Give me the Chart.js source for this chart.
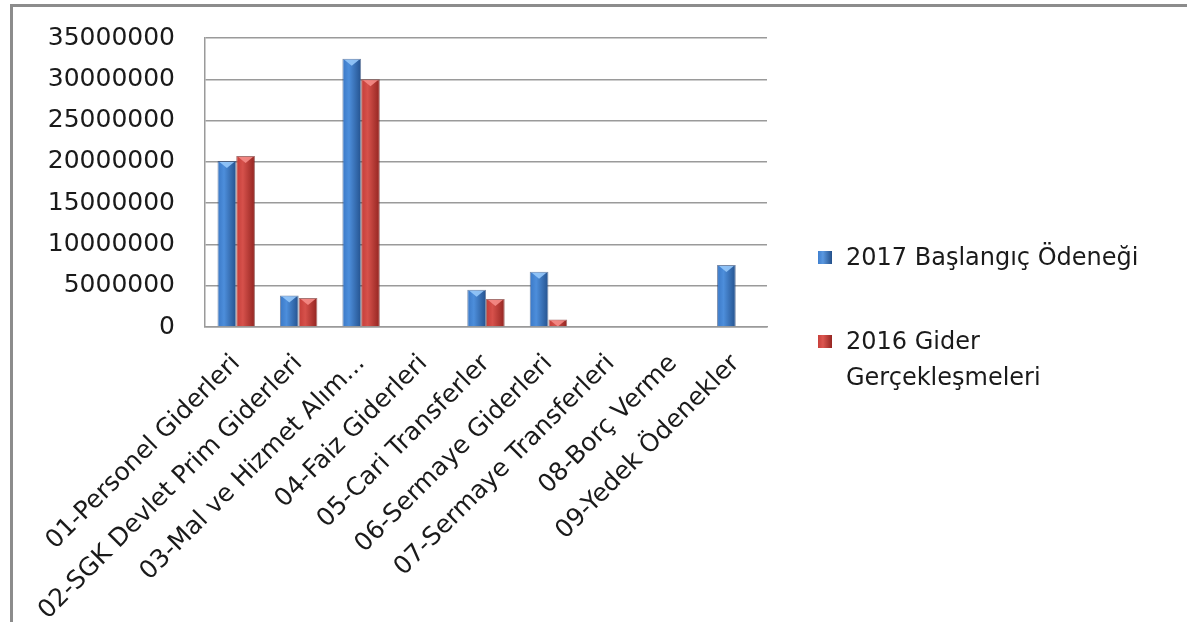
<!DOCTYPE html>
<html lang="tr">
<head>
<meta charset="utf-8">
<title>Ödenek ve Gider Grafiği</title>
<script src="https://cdn.jsdelivr.net/npm/chart.js@4.4.1/dist/chart.umd.min.js"></script>
<style>
  body { margin: 0; background: #fff; }
  #wrap { position: relative; width: 1187px; height: 622px; overflow: hidden; }
  #chart { position: absolute; left: 0; top: 0; }
  #frame {
    position: absolute; left: 10px; top: 4px; right: 0; bottom: 0;
    border-top: 3px solid #8c8c8c; border-left: 3px solid #8c8c8c;
    pointer-events: none;
  }
  .legend-item { position: absolute; left: 818px; width: 340px; font-family: 'DejaVu Sans', sans-serif; font-size: 24px; line-height: 36px; color: #1a1a1a; }
  .legend-box { position: absolute; left: 0; width: 14px; height: 13px; }
  .legend-text { position: absolute; left: 28px; top: 0; width: 300px; }
</style>
</head>
<body>
<div id="wrap">
  <canvas id="chart" width="1187" height="622"></canvas>
  <div id="frame"></div>
  <div class="legend-item" style="top:239px">
    <div class="legend-box" style="top:12px;background:linear-gradient(90deg,#3f7fcf,#5a98e0 35%,#24508a)"></div>
    <div class="legend-text" id="leg1"></div>
  </div>
  <div class="legend-item" style="top:323px">
    <div class="legend-box" style="top:12px;background:linear-gradient(90deg,#c8403b,#dc5650 35%,#952521)"></div>
    <div class="legend-text" id="leg2"></div>
  </div>
</div>
<script>
// kategoriler (x ekseni)
const categories = [
  '01-Personel Giderleri',
  '02-SGK Devlet Prim Giderleri',
  '03-Mal ve Hizmet Alım...',
  '04-Faiz Giderleri',
  '05-Cari Transferler',
  '06-Sermaye Giderleri',
  '07-Sermaye Transferleri',
  '08-Borç Verme',
  '09-Yedek Ödenekler'
];

// seri adları
const seriesNames = ['2017 Başlangıç Ödeneği', '2016 Gider Gerçekleşmeleri'];

// seri değerleri
const baslangic2017 = [20100000, 3800000, 32500000, 0, 4500000, 6700000, 0, 0, 7500000];
const gider2016 = [20700000, 3500000, 30000000, 0, 3400000, 900000, 0, 0, 0];

// y ekseni
const yMax = 35000000;
const yStep = 5000000;

document.getElementById('leg1').textContent = seriesNames[0];
document.getElementById('leg2').textContent = seriesNames[1];

const catPct = 0.6;

// each bar gets a left-to-right shading like the old office charts
function barGradient(mid, light, dark) {
  return function (context) {
    const chart = context.chart;
    const xs = chart.scales.x;
    if (!chart.chartArea || !xs || context.type !== 'data') return mid;
    const barW = xs.width / categories.length * catPct / 2;
    const center = xs.getPixelForValue(context.dataIndex);
    const left = context.datasetIndex === 0 ? center - barW : center;
    const g = chart.ctx.createLinearGradient(left, 0, left + barW, 0);
    g.addColorStop(0, mid);
    g.addColorStop(0.35, light);
    g.addColorStop(1, dark);
    return g;
  };
}

// small light triangle on top of every bar
const barCaps = {
  id: 'barCaps',
  afterDatasetsDraw(chart) {
    const ctx = chart.ctx;
    chart.data.datasets.forEach((ds, di) => {
      const meta = chart.getDatasetMeta(di);
      meta.data.forEach((bar, i) => {
        if (!ds.data[i]) return;
        const half = bar.width / 2;
        ctx.save();
        ctx.fillStyle = di === 0 ? 'rgba(150,200,250,0.9)' : 'rgba(245,140,135,0.9)';
        ctx.beginPath();
        ctx.moveTo(bar.x - half + 2, bar.y + 1);
        ctx.lineTo(bar.x + half - 2, bar.y + 1);
        ctx.lineTo(bar.x, bar.y + 7);
        ctx.closePath();
        ctx.fill();
        ctx.restore();
      });
    });
  }
};

const chartData = {
  labels: categories,
  datasets: [
    {
      label: seriesNames[0],
      data: baslangic2017,
      backgroundColor: barGradient('#3a78c6', '#4d8edb', '#24528e'),
      borderColor: 'rgba(30,60,110,0.6)',
      borderWidth: 1
    },
    {
      label: seriesNames[1],
      data: gider2016,
      backgroundColor: barGradient('#c43d38', '#d6514b', '#922420'),
      borderColor: 'rgba(110,25,22,0.6)',
      borderWidth: 1
    }
  ]
};

const config = {
  type: 'bar',
  data: chartData,
  plugins: [barCaps],
  options: {
    responsive: false,
    animation: false,
    datasets: {
      bar: { categoryPercentage: catPct, barPercentage: 1 }
    },
    layout: {
      padding: { left: 0, top: 38, right: 420, bottom: 0 }
    },
    plugins: {
      legend: { display: false },
      tooltip: { enabled: false }
    },
    scales: {
      x: {
        grid: { display: false },
        border: { display: true, color: '#9a9a9a', width: 1.5 },
        ticks: {
          autoSkip: false,
          maxRotation: 45,
          minRotation: 45,
          padding: 14,
          color: '#1a1a1a',
          font: { family: 'DejaVu Sans', size: 25 }
        },
        afterFit: scale => { scale.height = 295; }
      },
      y: {
        min: 0,
        max: yMax,
        grid: { color: '#9a9a9a', lineWidth: 1.5, drawTicks: false },
        border: { display: true, color: '#9a9a9a', width: 1.5 },
        ticks: {
          stepSize: yStep,
          padding: 30,
          color: '#1a1a1a',
          font: { family: 'DejaVu Sans', size: 25 },
          callback: v => String(v)
        },
        afterFit: scale => {
          scale.width = 205;
          // tick padding would otherwise push the plot down
          scale.paddingTop = 0;
          scale.paddingBottom = 0;
        }
      }
    }
  }
};

try {
  const ctx = document.getElementById('chart').getContext('2d');
  new Chart(ctx, config);
} catch (error) {
  console.error('Error rendering the chart:', error);
}
</script>
</body>
</html>
